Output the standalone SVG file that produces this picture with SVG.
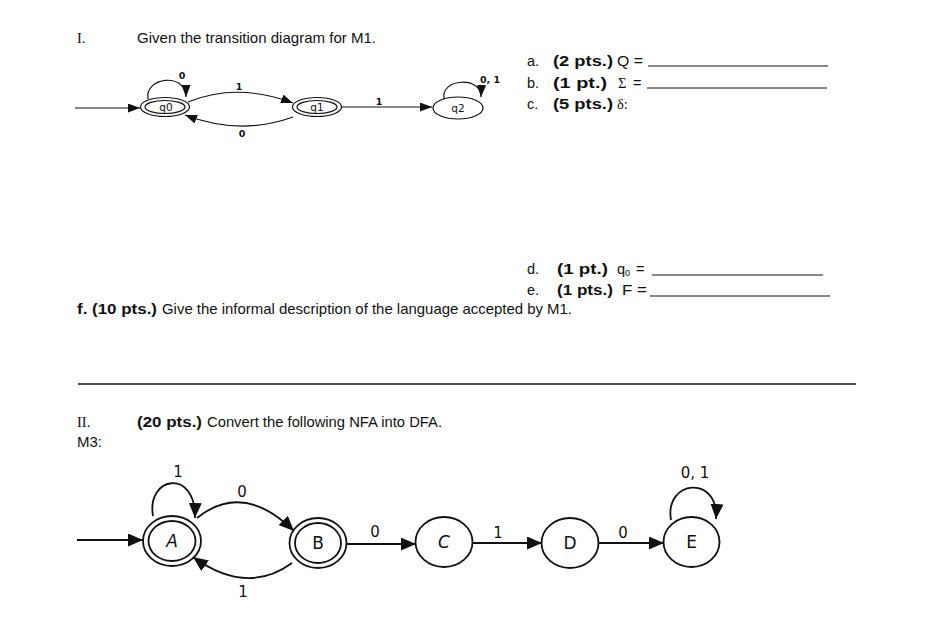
<svg xmlns="http://www.w3.org/2000/svg" width="930" height="621" viewBox="0 0 930 621">
<style>
.t{font-family:"Liberation Sans",Arial,sans-serif;font-size:14.5px;fill:#111}
.b{font-weight:bold}
.sf{font-family:"Liberation Serif","Times New Roman",serif;font-size:14.5px;fill:#111}
.ln{stroke:#111;stroke-width:1}
.e1{fill:none;stroke:#111;stroke-width:1.2}
.c1{fill:none;stroke:#111;stroke-width:1.2}
.lb1{font-family:"DejaVu Sans",sans-serif;font-size:9.5px;font-weight:bold;fill:#111;text-anchor:middle}
.nt1{font-family:"DejaVu Sans",sans-serif;font-size:10.5px;fill:#111;text-anchor:middle}
.e2{fill:none;stroke:#111;stroke-width:1.8}
.c2{fill:none;stroke:#111;stroke-width:1.8}
.lb2{font-family:"DejaVu Sans",sans-serif;font-size:15px;fill:#111;text-anchor:middle}
.nt2{font-family:"DejaVu Sans",sans-serif;font-size:17px;fill:#111;text-anchor:middle}
</style>
<defs>
<marker id="ah1" markerUnits="userSpaceOnUse" markerWidth="12" markerHeight="9" refX="12" refY="4.5" orient="auto"><path d="M0,0 L12,4.5 L0,9 z" fill="#111"/></marker>
<marker id="ah2" markerUnits="userSpaceOnUse" markerWidth="15" markerHeight="13" refX="15" refY="6.5" orient="auto"><path d="M0,0 L15,6.5 L0,13 z" fill="#111"/></marker>
</defs>
<rect width="930" height="621" fill="#fff"/>

<!-- Section I text -->
<text class="sf" x="77" y="43">I.</text>
<text class="t" x="137" y="43" textLength="239" lengthAdjust="spacingAndGlyphs">Given the transition diagram for M1.</text>

<text class="t" x="527" y="66">a.</text>
<text class="t b" x="553" y="66" textLength="60" lengthAdjust="spacingAndGlyphs">(2 pts.)</text>
<text class="t" x="617" y="66" textLength="26" lengthAdjust="spacingAndGlyphs">Q =</text>
<line class="ln" x1="648" y1="66" x2="828" y2="66"/>
<text class="t" x="527" y="88">b.</text>
<text class="t b" x="553" y="88" textLength="54" lengthAdjust="spacingAndGlyphs">(1 pt.)</text>
<text class="sf" x="618" y="88">Σ</text>
<text class="t" x="633" y="88">=</text>
<line class="ln" x1="647" y1="88" x2="827" y2="88"/>
<text class="t" x="527" y="109">c.</text>
<text class="t b" x="553" y="109" textLength="60" lengthAdjust="spacingAndGlyphs">(5 pts.)</text>
<text class="sf" x="617" y="109">δ:</text>

<text class="t" x="527" y="274">d.</text>
<text class="t b" x="557" y="274" textLength="51" lengthAdjust="spacingAndGlyphs">(1 pt.)</text>
<text class="t" x="617" y="274">q<tspan font-size="9" dy="1.5">0</tspan><tspan dy="-1.5" x="636">=</tspan></text>
<line class="ln" x1="652" y1="275" x2="823" y2="275"/>
<text class="t" x="527" y="295">e.</text>
<text class="t b" x="557" y="295" textLength="56" lengthAdjust="spacingAndGlyphs">(1 pts.)</text>
<text class="t" x="622" y="295" textLength="25" lengthAdjust="spacingAndGlyphs">F =</text>
<line class="ln" x1="650" y1="296" x2="830" y2="296"/>
<text class="t b" x="77" y="314" textLength="80" lengthAdjust="spacingAndGlyphs">f. (10 pts.)</text>
<text class="t" x="162" y="314" textLength="410" lengthAdjust="spacingAndGlyphs">Give the informal description of the language accepted by M1.</text>

<line x1="78" y1="384" x2="856" y2="384" stroke="#111" stroke-width="1.3"/>

<text class="sf" x="77" y="427">II.</text>
<text class="t b" x="137" y="427" textLength="65" lengthAdjust="spacingAndGlyphs">(20 pts.)</text>
<text class="t" x="207" y="427" textLength="235" lengthAdjust="spacingAndGlyphs">Convert the following NFA into DFA.</text>
<text class="t" x="77" y="447" textLength="25" lengthAdjust="spacingAndGlyphs">M3:</text>

<!-- M1 diagram -->
<g id="m1-q0"><ellipse class="e1" cx="165" cy="107" rx="24.5" ry="9.5"/><ellipse class="e1" cx="165" cy="107" rx="20" ry="6.5"/><text class="nt1" x="166" y="111">q0</text></g>
<g id="m1-q1"><ellipse class="e1" cx="317" cy="107" rx="24.5" ry="9.5"/><ellipse class="e1" cx="317" cy="107" rx="20" ry="6.5"/><text class="nt1" x="317" y="111">q1</text></g>
<g id="m1-q2"><ellipse class="e1" cx="458" cy="108" rx="25" ry="11"/><text class="nt1" x="458" y="112">q2</text></g>
<g id="m1-edges">
<path class="c1" d="M75,108 L140,108" marker-end="url(#ah1)"/>
<path class="c1" d="M148,99 C144,77 186,72 186,97" marker-end="url(#ah1)"/>
<path class="c1" d="M188,102 Q237,82 293,103" marker-end="url(#ah1)"/>
<path class="c1" d="M293,117 Q240,136 185,115" marker-end="url(#ah1)"/>
<path class="c1" d="M342,107 L432,107" marker-end="url(#ah1)"/>
<path class="c1" d="M444,99 C440,78 482,76 481,97" marker-end="url(#ah1)"/>
<text class="lb1" x="182" y="79">0</text>
<text class="lb1" x="239" y="90">1</text>
<text class="lb1" x="242" y="137">0</text>
<text class="lb1" x="379" y="105">1</text>
<text class="lb1" x="490" y="83">0, 1</text>
</g>

<!-- M3 diagram -->
<g id="m3-A"><ellipse class="e2" cx="172" cy="541" rx="29" ry="25"/><ellipse class="e2" cx="172" cy="541" rx="23.5" ry="20"/><text class="nt2" x="172" y="547" font-style="italic">A</text></g>
<g id="m3-B"><ellipse class="e2" cx="318" cy="543" rx="28.5" ry="25"/><ellipse class="e2" cx="318" cy="543" rx="23" ry="20"/><text class="nt2" x="318" y="549">B</text></g>
<g id="m3-C"><ellipse class="e2" cx="444" cy="542" rx="28.5" ry="25"/><text class="nt2" x="444" y="548" font-style="italic">C</text></g>
<g id="m3-D"><ellipse class="e2" cx="570" cy="543" rx="28.5" ry="25"/><text class="nt2" x="570" y="549">D</text></g>
<g id="m3-E"><ellipse class="e2" cx="691.5" cy="542" rx="28" ry="25"/><text class="nt2" x="691.5" y="548">E</text></g>
<g id="m3-edges">
<path class="c2" d="M77,540 L143,540" marker-end="url(#ah2)"/>
<path class="c2" d="M153,516 C146,476 196,468 195,518" marker-end="url(#ah2)"/>
<path class="c2" d="M197,518 Q243,481 294,531" marker-end="url(#ah2)"/>
<path class="c2" d="M292,563 Q247,596 193,557" marker-end="url(#ah2)"/>
<path class="c2" d="M346.5,544 L416,544" marker-end="url(#ah2)"/>
<path class="c2" d="M472.5,543 L542,543" marker-end="url(#ah2)"/>
<path class="c2" d="M598.5,543 L664,543" marker-end="url(#ah2)"/>
<path class="c2" d="M671,520 C664,480 719,474 716,519" marker-end="url(#ah2)"/>
<text class="lb2" x="178" y="477">1</text>
<text class="lb2" x="242" y="497">0</text>
<text class="lb2" x="243" y="597">1</text>
<text class="lb2" x="375" y="537">0</text>
<text class="lb2" x="498" y="538">1</text>
<text class="lb2" x="623" y="538">0</text>
<text class="lb2" x="695" y="478">0, 1</text>
</g>
</svg>
